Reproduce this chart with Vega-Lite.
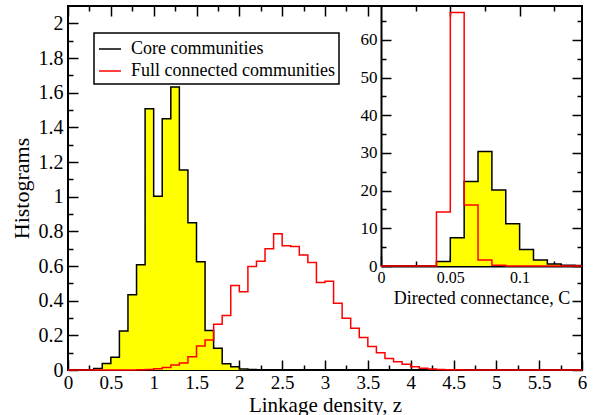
{
  "$schema": "https://vega.github.io/schema/vega-lite/v6.json",
  "width": 514,
  "height": 364,
  "autosize": {"type": "none"},
  "padding": {"left": 68, "top": 6, "right": 12, "bottom": 45},
  "background": "white",
  "config": {
    "view": {"stroke": "black", "strokeWidth": 2},
    "font": "Liberation Serif",
    "axis": {
      "labelFont": "Liberation Serif",
      "titleFont": "Liberation Serif",
      "labelColor": "black",
      "titleColor": "black",
      "tickColor": "black",
      "domainColor": "black",
      "grid": false,
      "titleFontWeight": "normal",
      "tickWidth": 1.5,
      "domainWidth": 2,
      "labelFlush": false,
      "labelOverlap": false,
      "zindex": 1,
      "format": "~g"
    },
    "legend": {
      "orient": "none",
      "legendX": 26,
      "legendY": 27,
      "strokeColor": "black",
      "strokeWidth": 1.5,
      "fillColor": "white",
      "padding": 4,
      "rowPadding": 1,
      "labelFont": "Liberation Serif",
      "labelFontSize": 18,
      "labelColor": "black",
      "labelLimit": 400,
      "labelOffset": 9,
      "symbolType": "stroke",
      "symbolSize": 484,
      "symbolStrokeWidth": 1.5,
      "cornerRadius": 0
    }
  },
  "datasets": {
    "core": [
      {"z": 0, "h": 0}, {"z": 0.2, "h": 0.002}, {"z": 0.3, "h": 0.008}, {"z": 0.4, "h": 0.037},
      {"z": 0.5, "h": 0.073}, {"z": 0.6, "h": 0.225}, {"z": 0.7, "h": 0.434}, {"z": 0.8, "h": 0.607},
      {"z": 0.9, "h": 1.507}, {"z": 1.0, "h": 1.002}, {"z": 1.1, "h": 1.449}, {"z": 1.2, "h": 1.632},
      {"z": 1.3, "h": 1.154}, {"z": 1.4, "h": 0.85}, {"z": 1.5, "h": 0.624}, {"z": 1.6, "h": 0.228},
      {"z": 1.7, "h": 0.125}, {"z": 1.8, "h": 0.036}, {"z": 1.9, "h": 0.019}, {"z": 2.0, "h": 0.006},
      {"z": 2.1, "h": 0.003}, {"z": 2.2, "h": 0.001}, {"z": 2.3, "h": 0}
    ],
    "full": [
      {"z": 0, "h": 0}, {"z": 0.8, "h": 0.001}, {"z": 0.9, "h": 0.003}, {"z": 1.0, "h": 0.007},
      {"z": 1.1, "h": 0.015}, {"z": 1.2, "h": 0.029}, {"z": 1.3, "h": 0.04}, {"z": 1.4, "h": 0.077},
      {"z": 1.5, "h": 0.139}, {"z": 1.6, "h": 0.173}, {"z": 1.7, "h": 0.264}, {"z": 1.8, "h": 0.314},
      {"z": 1.9, "h": 0.487}, {"z": 2.0, "h": 0.451}, {"z": 2.1, "h": 0.597}, {"z": 2.2, "h": 0.628},
      {"z": 2.3, "h": 0.699}, {"z": 2.4, "h": 0.786}, {"z": 2.5, "h": 0.717}, {"z": 2.6, "h": 0.713},
      {"z": 2.7, "h": 0.663}, {"z": 2.8, "h": 0.62}, {"z": 2.9, "h": 0.505}, {"z": 3.0, "h": 0.512},
      {"z": 3.1, "h": 0.385}, {"z": 3.2, "h": 0.299}, {"z": 3.3, "h": 0.241}, {"z": 3.4, "h": 0.187},
      {"z": 3.5, "h": 0.135}, {"z": 3.6, "h": 0.1}, {"z": 3.7, "h": 0.067}, {"z": 3.8, "h": 0.048},
      {"z": 3.9, "h": 0.033}, {"z": 4.0, "h": 0.019}, {"z": 4.1, "h": 0.01}, {"z": 4.2, "h": 0.006},
      {"z": 4.3, "h": 0.003}, {"z": 4.4, "h": 0.002}, {"z": 4.5, "h": 0.001}, {"z": 4.6, "h": 0},
      {"z": 6, "h": 0}
    ],
    "icore": [
      {"c": 0, "h": 0}, {"c": 0.04, "h": 1.2}, {"c": 0.05, "h": 7.5}, {"c": 0.06, "h": 22.4},
      {"c": 0.07, "h": 30.4}, {"c": 0.08, "h": 20.2}, {"c": 0.09, "h": 11.2}, {"c": 0.1, "h": 4.4},
      {"c": 0.11, "h": 1.6}, {"c": 0.12, "h": 0.5}, {"c": 0.13, "h": 0.2}, {"c": 0.14, "h": 0.1},
      {"c": 0.145, "h": 0}
    ],
    "ifull": [
      {"c": 0, "h": 0}, {"c": 0.04, "h": 14.3}, {"c": 0.05, "h": 67.3}, {"c": 0.06, "h": 16.2},
      {"c": 0.07, "h": 1.6}, {"c": 0.08, "h": 0.2}, {"c": 0.09, "h": 0}, {"c": 0.145, "h": 0}
    ]
  },
  "layer": [
    {
      "layer": [
        {
          "data": {"name": "core"},
          "mark": {"type": "area", "interpolate": "step-after", "color": "#ffff00"},
          "encoding": {
            "x": {"field": "z", "type": "quantitative", "scale": {"domain": [0, 6], "nice": false},
              "axis": {"orient": "bottom", "values": [0, 0.5, 1, 1.5, 2, 2.5, 3, 3.5, 4, 4.5, 5, 5.5, 6],
                "tickSize": -10, "labelPadding": 13, "labelFontSize": 19, "domain": false,
                "title": "Linkage density, z", "titleFontSize": 21, "titlePadding": 2}},
            "y": {"field": "h", "type": "quantitative", "scale": {"domain": [0, 2.1], "nice": false},
              "axis": {"orient": "left", "values": [0, 0.2, 0.4, 0.6, 0.8, 1, 1.2, 1.4, 1.6, 1.8, 2],
                "tickSize": -10, "labelPadding": 15, "labelFontSize": 20, "domain": false,
                "title": "Histograms", "titleFontSize": 22, "titlePadding": 5}}
          }
        },
        {
          "data": {"name": "core"},
          "mark": {"type": "line", "interpolate": "step-after", "strokeWidth": 1.5},
          "encoding": {
            "x": {"field": "z", "type": "quantitative",
              "axis": {"orient": "bottom", "values": [0.25, 0.75, 1.25, 1.75, 2.25, 2.75, 3.25, 3.75, 4.25, 4.75, 5.25, 5.75],
                "tickSize": -5, "labels": false, "domain": false, "title": null}},
            "y": {"field": "h", "type": "quantitative",
              "axis": {"orient": "left", "values": [0.1, 0.3, 0.5, 0.7, 0.9, 1.1, 1.3, 1.5, 1.7, 1.9],
                "tickSize": -5, "labels": false, "domain": false, "title": null}},
            "color": {"datum": "Core communities", "type": "nominal", "title": null,
              "scale": {"domain": ["Core communities", "Full connected communities"], "range": ["#000000", "#ff0000"]}}
          }
        },
        {
          "data": {"name": "full"},
          "mark": {"type": "line", "interpolate": "step-after", "strokeWidth": 1.5},
          "encoding": {
            "x": {"field": "z", "type": "quantitative",
              "axis": {"orient": "top", "values": [0, 0.5, 1, 1.5, 2, 2.5, 3, 3.5],
                "tickSize": -10, "labels": false, "domain": false, "title": null}},
            "y": {"field": "h", "type": "quantitative",
              "axis": {"orient": "right", "values": [0, 0.2, 0.4],
                "tickSize": -10, "labels": false, "domain": false, "title": null}},
            "color": {"datum": "Full connected communities", "type": "nominal", "title": null}
          }
        },
        {
          "data": {"name": "full"},
          "mark": {"type": "point", "opacity": 0},
          "encoding": {
            "x": {"field": "z", "type": "quantitative",
              "axis": {"orient": "top", "values": [0.25, 0.75, 1.25, 1.75, 2.25, 2.75, 3.25],
                "tickSize": -5, "labels": false, "domain": false, "title": null}},
            "y": {"field": "h", "type": "quantitative",
              "axis": {"orient": "right", "values": [0.1, 0.3, 0.5],
                "tickSize": -5, "labels": false, "domain": false, "title": null}}
          }
        }
      ],
      "resolve": {"axis": {"x": "independent", "y": "independent"}}
    },
    {
      "layer": [
        {
          "data": {"name": "icore"},
          "mark": {"type": "area", "interpolate": "step-after", "color": "#ffff00"},
          "encoding": {
            "x": {"field": "c", "type": "quantitative", "scale": {"domain": [0, 0.145], "range": [313, 514], "nice": false, "zero": false},
              "axis": {"orient": "bottom", "offset": -104, "values": [0, 0.05, 0.1], "format": "~g",
                "tickSize": -10, "labelPadding": 13, "labelFontSize": 16, "domain": true,
                "title": "Directed connectance, C", "titleFontSize": 18, "titlePadding": 4}},
            "y": {"field": "h", "type": "quantitative", "scale": {"domain": [0, 69], "range": [260, 0], "nice": false},
              "axis": {"orient": "left", "offset": -313, "values": [0, 10, 20, 30, 40, 50, 60], "format": "d",
                "tickSize": -10, "labelPadding": 14, "labelFontSize": 17, "domain": true, "title": null}}
          }
        },
        {
          "data": {"name": "icore"},
          "mark": {"type": "line", "interpolate": "step-after", "strokeWidth": 1.5, "color": "#000000"},
          "encoding": {
            "x": {"field": "c", "type": "quantitative",
              "axis": {"orient": "bottom", "offset": -104, "values": [0.025, 0.075, 0.125],
                "tickSize": -5, "labels": false, "domain": false, "title": null}},
            "y": {"field": "h", "type": "quantitative",
              "axis": {"orient": "left", "offset": -313, "values": [5, 15, 25, 35, 45, 55, 65],
                "tickSize": -5, "labels": false, "domain": false, "title": null}}
          }
        },
        {
          "data": {"name": "ifull"},
          "mark": {"type": "line", "interpolate": "step-after", "strokeWidth": 1.5, "color": "#ff0000"},
          "encoding": {
            "x": {"field": "c", "type": "quantitative",
              "axis": {"orient": "top", "values": [0.05, 0.1],
                "tickSize": -10, "labels": false, "domain": false, "title": null}},
            "y": {"field": "h", "type": "quantitative",
              "axis": {"orient": "right", "values": [0, 10, 20, 30, 40, 50, 60],
                "tickSize": -10, "labels": false, "domain": false, "title": null}}
          }
        },
        {
          "data": {"name": "ifull"},
          "mark": {"type": "point", "opacity": 0},
          "encoding": {
            "x": {"field": "c", "type": "quantitative",
              "axis": {"orient": "top", "values": [0.025, 0.075, 0.125],
                "tickSize": -5, "labels": false, "domain": false, "title": null}},
            "y": {"field": "h", "type": "quantitative",
              "axis": {"orient": "right", "values": [5, 15, 25, 35, 45, 55, 65],
                "tickSize": -5, "labels": false, "domain": false, "title": null}}
          }
        }
      ],
      "resolve": {"axis": {"x": "independent", "y": "independent"}}
    }
  ],
  "resolve": {
    "scale": {"x": "independent", "y": "independent"},
    "axis": {"x": "independent", "y": "independent"}
  }
}
